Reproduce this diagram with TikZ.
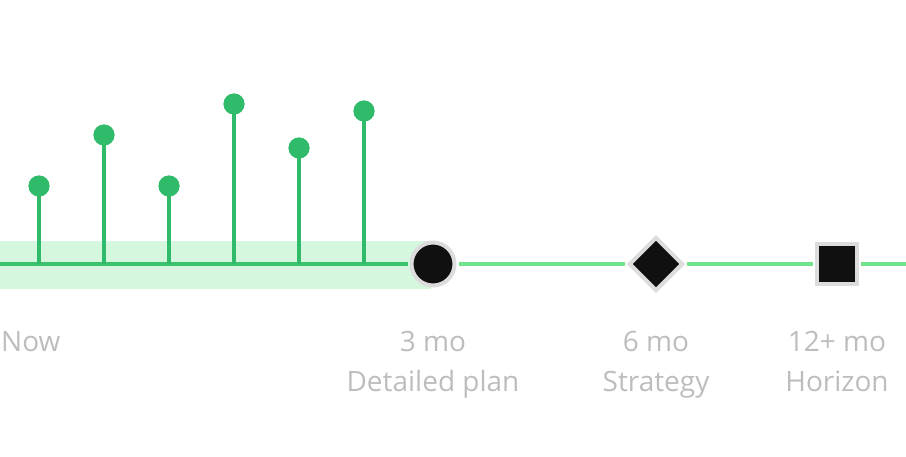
\documentclass[tikz,border=0pt]{standalone}
\usepackage{fontspec}
\usepackage{xcolor}
\usepackage{tikz}
\usetikzlibrary{shapes.geometric, positioning}
\newfontfamily\labelfont{Open Sans}
\definecolor{tl-dark}{HTML}{3CC16C}
\definecolor{tl-light}{HTML}{72E38F}
\definecolor{tl-band}{HTML}{D5F7DD}
\definecolor{tl-dot}{HTML}{2FBB6A}
\definecolor{tl-ink}{HTML}{101010}
\definecolor{tl-rim}{HTML}{DCDCDC}
\definecolor{tl-text}{HTML}{BDBDBD}

\begin{document}
\begin{tikzpicture}[x=1pt, y=-1pt,
			dot/.style={
				circle, fill=tl-dot, inner sep=0pt, minimum size=21pt
			},
			stem/.style={
				draw=tl-dot, line width=3.5pt
			},
			track/.style={
				line width=4pt, shorten <=2pt, shorten >=2pt
			},
			milestone/.style={
				draw=tl-rim, fill=tl-ink, line width=4pt, inner sep=0pt
			},
			when/.style={
				font=\labelfont\fontsize{28}{40}\selectfont, text=tl-text,
				align=center, inner sep=0pt, anchor=north
			}
			]
			
			\useasboundingbox (0,0) rectangle (906,456);
			
			% shaded band for the planned part
			\fill[tl-band] (0,241) rectangle (431,289);
			
			\coordinate (start) at (0,264);
			\coordinate (end) at (906,264);
			
			% milestones
			\node[milestone, circle, minimum size=43pt] (plan) at (433,264) {};
			\node[milestone, diamond, minimum size=54pt] (strat) at (656,264) {};
			\node[milestone, rectangle, minimum size=40pt] (horizon) at (837,264) {};
			
			\draw[track, draw=tl-dark, shorten <=0pt] (start) -- (plan);
			\draw[track, draw=tl-light] (plan) -- (strat);
			\draw[track, draw=tl-light] (strat) -- (horizon);
			\draw[track, draw=tl-light, shorten >=0pt] (horizon) -- (end);
			
			% tasks
			\node[dot] (t1) at (39,186) {};
			\node[dot] (t2) at (104,135) {};
			\node[dot] (t3) at (169,186) {};
			\node[dot] (t4) at (234,104) {};
			\node[dot] (t5) at (299,148) {};
			\node[dot] (t6) at (364,111) {};
			
			\draw[stem] (t1.center) -- (t1 |- start);
			\draw[stem] (t2.center) -- (t2 |- start);
			\draw[stem] (t3.center) -- (t3 |- start);
			\draw[stem] (t4.center) -- (t4 |- start);
			\draw[stem] (t5.center) -- (t5 |- start);
			\draw[stem] (t6.center) -- (t6 |- start);
			
			\node[dot] at (t1) {};
			\node[dot] at (t2) {};
			\node[dot] at (t3) {};
			\node[dot] at (t4) {};
			\node[dot] at (t5) {};
			\node[dot] at (t6) {};
			
			% labels
			\node[when, anchor=north west] (now) at (1,331) {Now};
			\node[when] (plan-lbl) at (plan |- now.north) {3 mo\\Detailed plan};
			\node[when] (strat-lbl) at (strat |- now.north) {6 mo\\Strategy};
			\node[when] (horizon-lbl) at (horizon |- now.north) {12+ mo\\Horizon};
			
		\end{tikzpicture}
\end{document}
